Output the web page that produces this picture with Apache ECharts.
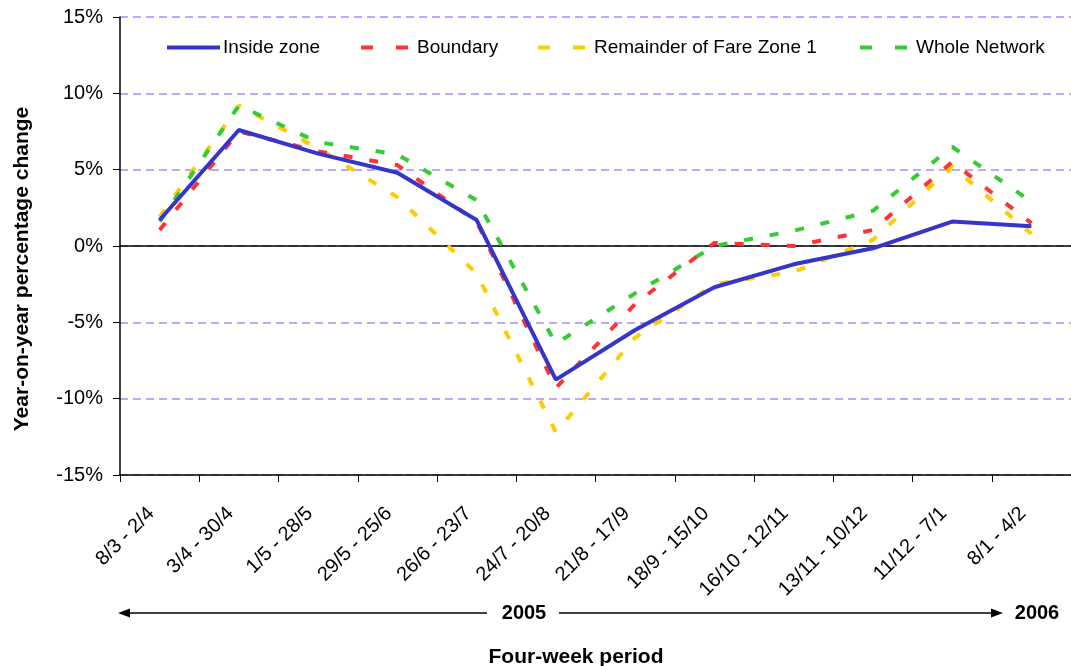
<!DOCTYPE html>
<html>
<head>
<meta charset="utf-8">
<script src="https://cdn.jsdelivr.net/npm/echarts@6/dist/echarts.min.js"></script>
<style>
html,body{margin:0;padding:0;background:#fff;}
#chart{width:1071px;height:666px;}
</style>
</head>
<body>
<div id="chart"></div>
<script>
// ---- data ----
var categories = ['8/3 - 2/4','3/4 - 30/4','1/5 - 28/5','29/5 - 25/6','26/6 - 23/7','24/7 - 20/8','21/8 - 17/9','18/9 - 15/10','16/10 - 12/11','13/11 - 10/12','11/12 - 7/1','8/1 - 4/2'];
var insideZone = [1.7, 7.6, 6.05, 4.8, 1.7, -8.75, -5.5, -2.7, -1.2, -0.15, 1.6, 1.3];
var boundary   = [1.05, 7.5, 6.2, 5.3, 1.6, -9.3, -3.8, 0.2, 0.0, 1.05, 5.5, 1.5];
var remainder  = [1.9, 9.2, 6.4, 3.2, -1.8, -12.2, -6.0, -2.5, -1.7, 0.4, 5.2, 0.8];
var network    = [1.6, 9.2, 6.8, 6.0, 3.0, -6.4, -3.1, 0.0, 1.0, 2.3, 6.5, 2.9];
var seriesNames = ['Inside zone','Boundary','Remainder of Fare Zone 1','Whole Network'];
var yTicks = {min: -15, max: 15, interval: 5};
var yearLabels = ['2005','2006'];

var FONT = 'Arial, "Liberation Sans", sans-serif';
var dash = [9, 17];
var legendDash = [12, 23];

var chart = echarts.init(document.getElementById('chart'), null, {renderer: 'canvas'});

function legendFor(name, left, type) {
  return {
    data: [name], left: left, top: 38, padding: 0, itemWidth: 53, itemHeight: 14, itemGap: 0,
    itemStyle: {opacity: 0},
    lineStyle: {width: 4, type: type},
    textStyle: {fontFamily: FONT, fontSize: 19, color: '#000', padding: [0,0,0,-2]},
    selectedMode: false
  };
}

var option = {
  backgroundColor: '#fff',
  animation: false,
  textStyle: {fontFamily: FONT},
  legend: [
    legendFor(seriesNames[0], 165, 'solid'),
    legendFor(seriesNames[1], 359, legendDash),
    legendFor(seriesNames[2], 536, legendDash),
    legendFor(seriesNames[3], 858, legendDash)
  ],
  grid: {left: 120, top: 17, width: 955, height: 458, containLabel: false},
  xAxis: {
    type: 'category',
    data: categories,
    boundaryGap: true,
    axisLine: {onZero: false, lineStyle: {color: '#000', width: 1.5}},
    axisTick: {show: true, length: 7, lineStyle: {color: '#000', width: 1}},
    axisLabel: {rotate: 45, margin: 27, fontSize: 20, color: '#000', fontFamily: FONT, interval: 0, padding: [0, 12, 0, 0]}
  },
  yAxis: {
    type: 'value',
    min: yTicks.min, max: yTicks.max, interval: yTicks.interval,
    axisLine: {show: true, lineStyle: {color: '#000', width: 1.5}},
    axisTick: {show: true, length: 7, lineStyle: {color: '#000', width: 1}},
    axisLabel: {formatter: '{value}%', fontSize: 20, color: '#000', margin: 17, fontFamily: FONT},
    splitLine: {show: true, lineStyle: {color: '#A58CFF', type: [8, 5], width: 1.5}}
  },
  series: [
    {
      name: seriesNames[0], type: 'line', data: insideZone, symbol: 'none', z: 5,
      lineStyle: {color: '#3535C8', width: 4, type: 'solid'}, itemStyle: {color: '#3535C8'},
      markLine: {
        silent: true, symbol: 'none', label: {show: false}, z: 1,
        lineStyle: {color: '#000', width: 1.5, type: 'solid'},
        data: [{yAxis: 0}]
      }
    },
    {
      name: seriesNames[1], type: 'line', data: boundary, symbol: 'none', z: 4,
      lineStyle: {color: '#FF3333', width: 4, type: dash}, itemStyle: {color: '#FF3333'}
    },
    {
      name: seriesNames[2], type: 'line', data: remainder, symbol: 'none', z: 3,
      lineStyle: {color: '#FFCC00', width: 4, type: dash}, itemStyle: {color: '#FFCC00'}
    },
    {
      name: seriesNames[3], type: 'line', data: network, symbol: 'none', z: 3,
      lineStyle: {color: '#33CC33', width: 4, type: dash}, itemStyle: {color: '#33CC33'}
    }
  ],
  graphic: [
    {type: 'text', x: 22, y: 269, rotation: Math.PI / 2,
     style: {text: 'Year-on-year percentage change', font: 'bold 21px ' + FONT, fill: '#000', textAlign: 'center', textVerticalAlign: 'middle'}},
    {type: 'text', x: 576, y: 657,
     style: {text: 'Four-week period', font: 'bold 21px ' + FONT, fill: '#000', textAlign: 'center', textVerticalAlign: 'middle'}},
    {type: 'line', shape: {x1: 128, y1: 613, x2: 487, y2: 613}, style: {stroke: '#000', lineWidth: 1.5}},
    {type: 'polygon', shape: {points: [[118, 613], [130, 608.5], [130, 617.5]]}, style: {fill: '#000'}},
    {type: 'line', shape: {x1: 559, y1: 613, x2: 993, y2: 613}, style: {stroke: '#000', lineWidth: 1.5}},
    {type: 'polygon', shape: {points: [[1003, 613], [991, 608.5], [991, 617.5]]}, style: {fill: '#000'}},
    {type: 'text', x: 524, y: 613,
     style: {text: yearLabels[0], font: 'bold 20px ' + FONT, fill: '#000', textAlign: 'center', textVerticalAlign: 'middle'}},
    {type: 'text', x: 1037, y: 613,
     style: {text: yearLabels[1], font: 'bold 20px ' + FONT, fill: '#000', textAlign: 'center', textVerticalAlign: 'middle'}}
  ]
};
chart.setOption(option);
</script>
</body>
</html>
